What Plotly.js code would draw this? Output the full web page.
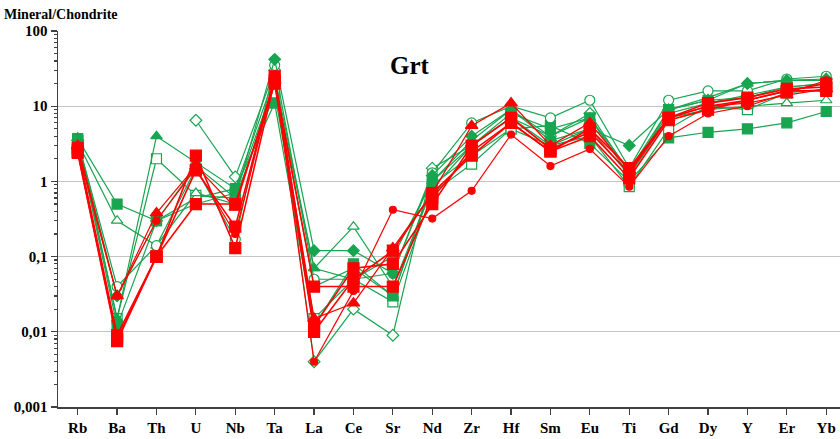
<!DOCTYPE html>
<html><head><meta charset="utf-8">
<script src="https://cdn.plot.ly/plotly-3.0.1.min.js"></script>
<style>html,body{margin:0;padding:0;background:#fff}</style>
</head><body><div id="chart" style="width:840px;height:439px"></div>
<script>
const elements = ['Rb','Ba','Th','U','Nb','Ta','La','Ce','Sr','Nd','Zr','Hf','Sm','Eu','Ti','Gd','Dy','Y','Er','Yb'];
const yTickVals = [0.001,0.01,0.1,1,10,100];
const yTickText = ['0,001','0,01','0,1','1','10','100'];

// Green samples
const gDiamondFilled = [3.5,0.03,0.3,1.6,0.6,42,0.12,0.12,0.06,1.2,4,9,3.5,5,3.0,9,12,20,22,23];
const gCircleOpen    = [3.5,0.04,0.14,1.5,0.17,35,0.05,0.05,0.06,1.3,6,10,7,12,1.5,12,16,16,23,25];
const gTriangleFilled= [3.8,0.015,4,1.8,0.8,25,0.07,0.05,0.1,1.0,3.5,9,4,7,1.4,9,13,20,22,22];
const gSquareOpen    = [3.5,0.015,2,0.65,0.6,15,0.015,0.05,0.025,0.7,1.7,5,3,4,0.85,5,10,9,15,17];
const gSquareLow     = [3.7,0.5,0.3,0.6,0.8,11,0.012,0.08,0.03,0.9,2.2,5,5.5,3.2,1.0,3.8,4.5,5,6,8.5];
const gTriangleOpen  = [3.3,0.3,0.14,0.7,0.5,20,0.07,0.25,0.04,0.8,3,7,3,5,1.2,7,9,10,11,12];
const gDiamondOpen   = [null,null,null,6.5,1.15,30,0.004,0.02,0.009,1.5,3,7,4,8,1.3,8,11,14,18,20];
const gSquareFilled  = [3.5,0.012,0.3,0.5,0.7,20,0.04,0.07,0.03,1.0,3,8,5,7,1.2,9,12,13,18,20];
// Red samples
const rSquareA  = [2.5,0.008,0.1,2.2,0.13,22,0.04,0.04,0.04,0.6,2.5,6,2.5,5,1.5,7,11,13,17,18];
const rSquareB  = [2.8,0.009,0.1,1.4,0.25,25,0.012,0.07,0.08,0.5,3,7,2.7,4.5,1.3,7,10,12,16,20];
const rSquareC  = [2.4,0.0075,0.1,0.5,0.5,20,0.01,0.05,0.12,0.7,2.2,6,2.5,4,1.1,6.5,9,12,16,16];
const rTriangle = [3.0,0.03,0.38,1.6,0.45,22,0.015,0.024,0.13,0.7,5.5,11,3,6,1.4,7,10,11,14,17];
const rCircle   = [2.6,0.03,0.3,1.5,0.2,24,0.004,0.035,0.42,0.32,0.75,4.2,1.6,2.7,0.85,4,8,10,15,22];

const GREEN = '#17a550', RED = '#ff0000';
function tr(y, color, symbol, size, lw){
  const open = symbol.indexOf('-open') >= 0;
  return {x: elements, y: y, type:'scatter', mode:'lines+markers', connectgaps:false,
    line:{color:color, width:lw||1.2},
    marker:{symbol: symbol.replace('-open',''), size:size, color: open ? '#ffffff' : color,
      line:{color:color, width:1.2}},
    hoverinfo:'skip'};
}
const data = [
  tr(gSquareLow, GREEN, 'square', 10),
  tr(gSquareOpen, GREEN, 'square-open', 10),
  tr(gTriangleOpen, GREEN, 'triangle-up-open', 10),
  tr(gDiamondOpen, GREEN, 'diamond-open', 9),
  tr(gSquareFilled, GREEN, 'square', 10),
  tr(gTriangleFilled, GREEN, 'triangle-up', 10),
  tr(gCircleOpen, GREEN, 'circle-open', 10),
  tr(gDiamondFilled, GREEN, 'diamond', 9),
  tr(rCircle, RED, 'circle', 7),
  tr(rTriangle, RED, 'triangle-up', 11),
  tr(rSquareC, RED, 'square', 11, 1.6),
  tr(rSquareB, RED, 'square', 11, 1.6),
  tr(rSquareA, RED, 'square', 11, 1.6)
];

const serif = 'Liberation Serif, Times New Roman, serif';
const layout = {
  width:840, height:439,
  margin:{l:58, r:0, t:31, b:32},
  paper_bgcolor:'#ffffff', plot_bgcolor:'#ffffff',
  showlegend:false,
  separators:', ',
  xaxis:{type:'category', range:[-0.5,19.35], showgrid:false, zeroline:false,
    showline:true, linecolor:'#404040', linewidth:1.5,
    ticks:'outside', ticklen:6, tickcolor:'#404040', tickwidth:1.2,
    tickfont:{family:serif, size:15, color:'#000', weight:'bold'}},
  yaxis:{type:'log', range:[-3,2], tickvals:yTickVals, ticktext:yTickText,
    showgrid:true, gridcolor:'#c4c4c4', gridwidth:1.4, zeroline:false,
    showline:true, linecolor:'#404040', linewidth:1.5,
    ticks:'outside', ticklen:6, tickcolor:'#404040', tickwidth:1.2,
    minor:{ticks:'outside', ticklen:3, tickcolor:'#404040', dtick:'D1', showgrid:false},
    tickfont:{family:serif, size:15, color:'#000', weight:'bold'}},
  annotations:[
    {text:'<b>Mineral/Chondrite</b>', xref:'paper', yref:'paper', x:-0.072, y:1.045,
     xanchor:'left', yanchor:'middle', showarrow:false, font:{family:serif, size:14, color:'#000'}},
    {text:'<b>Grt</b>', xref:'paper', yref:'paper', x:0.45, y:0.907,
     xanchor:'center', yanchor:'middle', showarrow:false, font:{family:serif, size:25, color:'#000'}}
  ]
};
Plotly.newPlot('chart', data, layout, {staticPlot:true, displayModeBar:false});
</script></body></html>
